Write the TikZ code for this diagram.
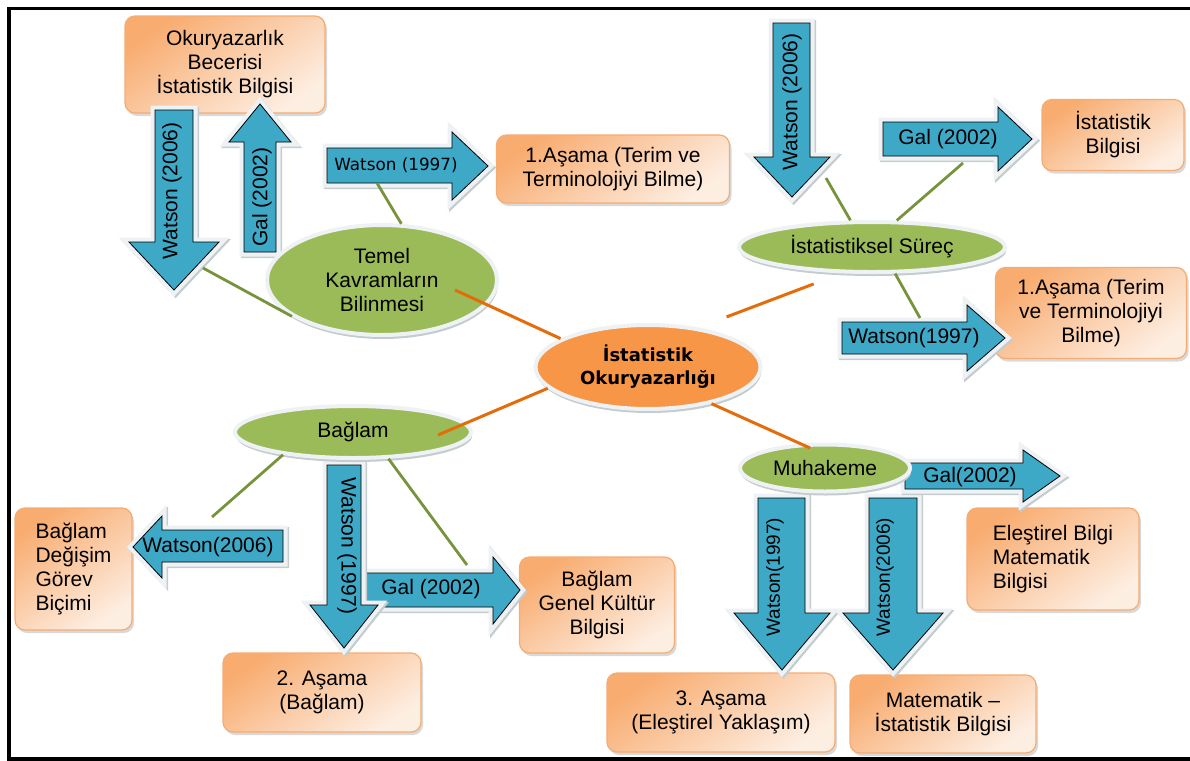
\documentclass[tikz,border=0pt]{standalone}
\usepackage{fontspec}
\setmainfont{Liberation Sans}
\newfontfamily\hubfont{DejaVu Sans}
\usepackage{xcolor}
\usepackage{tikz}
\usetikzlibrary{shapes.geometric, shadows}

\definecolor{arrowblue}{RGB}{62,168,199}
\definecolor{topicgreen}{RGB}{155,187,89}
\definecolor{linkgreen}{RGB}{119,147,60}
\definecolor{huborange}{RGB}{247,150,70}
\definecolor{linkorange}{RGB}{228,108,10}
\definecolor{boxtop}{RGB}{248,172,112}
\definecolor{boxbottom}{RGB}{253,238,226}
\definecolor{boxedge}{RGB}{245,172,115}
\definecolor{rimgray}{RGB}{238,242,244}
\definecolor{shadowgray}{RGB}{196,204,208}

\tikzset{
    infobox/.style={
        rectangle,
        rounded corners=5pt,
        draw=boxedge,
        line width=0.6pt,
        top color=boxtop,
        bottom color=boxbottom,
        shading angle=35,
        drop shadow={shadow xshift=1pt, shadow yshift=-1.5pt, opacity=0.3},
        align=center,
        inner sep=2pt,
        font=\fontsize{10.5}{12}\selectfont
    },
    topic/.style={
        ellipse,
        draw=rimgray,
        line width=2pt,
        fill=topicgreen,
        drop shadow={shadow xshift=0.5pt, shadow yshift=-2pt, fill=shadowgray, opacity=1},
        align=center,
        inner sep=0pt,
        font=\fontsize{10.5}{12}\selectfont
    },
    hub/.style={
        topic,
        fill=huborange,
        font=\hubfont\bfseries\fontsize{9}{11.5}\selectfont
    },
    blockarrow/.style={
        drop shadow={shadow xshift=0.8pt, shadow yshift=-0.8pt, draw=shadowgray, fill=shadowgray, line width=4.5pt, opacity=1},
        preaction={draw=rimgray, line width=4.5pt},
        fill=arrowblue
    },
    arrowtext/.style={
        inner sep=0pt,
        font=\fontsize{10.5}{12}\selectfont
    },
    hubline/.style={
        draw=linkorange,
        line width=1.5pt
    },
    topicline/.style={
        draw=linkgreen,
        line width=1.4pt
    },
    frameline/.style={
        draw=black,
        line width=1.6pt
    }
}

\begin{document}
\begin{tikzpicture}[x=0.5pt, y=-0.5pt]
\useasboundingbox (0,0) rectangle (1190,761);
\draw[frameline] (1200,8.5) -- (9,8.5) -- (9,759) -- (1200,759);

\node[infobox, minimum width=100pt, minimum height=48.5pt] (beceri) at (225,64.5) {Okuryazarlık\\Becerisi\\İstatistik Bilgisi};
\node[infobox, minimum width=116.5pt, minimum height=34pt] (asamaA) at (613,169) {1.Aşama (Terim ve\\Terminolojiyi Bilme)};
\node[infobox, minimum width=71pt, minimum height=35.5pt] (istbilgi) at (1113,135) {İstatistik\\Bilgisi};
\node[infobox, minimum width=95.5pt, minimum height=45.5pt] (asamaB) at (1091,313) {1.Aşama (Terim\\ve Terminolojiyi\\Bilme)};
\node[infobox, align=left, minimum width=58.5pt, minimum height=61pt] (degisim) at (73.5,569) {Bağlam\\Değişim\\Görev\\Biçimi};
\node[infobox, minimum width=77.5pt, minimum height=48pt] (kultur) at (597,605) {Bağlam\\Genel Kültür\\Bilgisi};
\node[infobox, minimum width=99pt, minimum height=39.5pt] (asama2) at (322,692.5) {2. Aşama\\(Bağlam)};
\node[infobox, align=left, minimum width=86pt, minimum height=51pt] (elestirel) at (1053,559) {Eleştirel Bilgi\\Matematik\\Bilgisi};
\node[infobox, minimum width=114pt, minimum height=39.5pt] (asama3) at (721,712.5) {3. Aşama\\(Eleştirel Yaklaşım)};
\node[infobox, minimum width=93pt, minimum height=39pt] (matist) at (943,714) {Matematik --\\İstatistik Bilgisi};

\draw[blockarrow] (155,110) -- (193,110) -- (193,242) -- (219,242) -- (174,290) -- (129,242) -- (155,242) -- cycle;
\node[arrowtext, rotate=90] (w06top) at (172,191) {Watson (2006)};
\draw[blockarrow] (244,252) -- (276,252) -- (276,142) -- (291,142) -- (260,104) -- (229,142) -- (244,142) -- cycle;
\node[arrowtext, rotate=90] (g02up) at (262,197) {Gal (2002)};
\draw[blockarrow] (327,148) -- (452,148) -- (452,132) -- (488,166) -- (452,200) -- (452,183) -- (327,183) -- cycle;
\node[arrowtext, font=\hubfont\fontsize{8.4}{10}\selectfont] (w97top) at (396,165) {Watson (1997)};
\draw[blockarrow] (773,23) -- (810,23) -- (810,157) -- (830,157) -- (792,197) -- (754,157) -- (773,157) -- cycle;
\node[arrowtext, rotate=90] (w06right) at (792,102) {Watson (2006)};
\draw[blockarrow] (883,122) -- (998,122) -- (998,107) -- (1032,139) -- (998,171) -- (998,156) -- (883,156) -- cycle;
\node[arrowtext] (g02right) at (948,139) {Gal (2002)};
\draw[blockarrow] (842,322) -- (967,322) -- (967,305) -- (1005,338) -- (967,371) -- (967,354) -- (842,354) -- cycle;
\node[arrowtext] (w97right) at (914,338) {Watson(1997)};
\draw[blockarrow] (283,530) -- (162,530) -- (162,516) -- (133,547) -- (162,578) -- (162,562) -- (283,562) -- cycle;
\node[arrowtext] (w06left) at (208,547) {Watson(2006)};
\draw[blockarrow] (350,573) -- (493,573) -- (493,557) -- (520,590) -- (493,624) -- (493,607) -- (350,607) -- cycle;
\node[arrowtext] (g02ctx) at (431,589) {Gal (2002)};
\draw[blockarrow] (327,465) -- (361,465) -- (361,605) -- (378,605) -- (344,648) -- (310,605) -- (327,605) -- cycle;
\node[arrowtext, rotate=-90] (w97down) at (347,546) {Watson (1997)};
\draw[blockarrow] (758,498) -- (805,498) -- (805,613) -- (830,613) -- (782,670) -- (734,613) -- (758,613) -- cycle;
\node[arrowtext, rotate=90, font=\fontsize{9.5}{11}\selectfont] (w97muh) at (775,577) {Watson(1997)};
\draw[blockarrow] (869,498) -- (917,498) -- (917,613) -- (943,613) -- (893,670) -- (843,613) -- (869,613) -- cycle;
\node[arrowtext, rotate=90, font=\fontsize{9.5}{11}\selectfont] (w06muh) at (885,577) {Watson(2006)};
\draw[blockarrow] (905,463) -- (1023,463) -- (1023,450) -- (1060,476) -- (1023,502) -- (1023,489) -- (905,489) -- cycle;
\node[arrowtext] (g02muh) at (970,477) {Gal(2002)};

\node[topic, minimum width=115pt, minimum height=55pt] (temel) at (382,280) {Temel\\Kavramların\\Bilinmesi};
\node[topic, minimum width=133pt, minimum height=25pt] (surec) at (872,247) {İstatistiksel Süreç};
\node[topic, minimum width=118pt, minimum height=26pt] (baglam) at (353,432) {Bağlam};
\node[topic, minimum width=85pt, minimum height=23.5pt] (muhakeme) at (825,468) {Muhakeme};
\node[hub, minimum width=112.5pt, minimum height=42pt] (okur) at (648,367) {İstatistik\\Okuryazarlığı};

\coordinate (c1) at (455,290);
\coordinate (c3) at (438,435);
\coordinate (c4) at (810,448);
\coordinate (g1) at (203,268);
\coordinate (g2) at (377,183);
\coordinate (g3) at (826,178);
\coordinate (g4) at (963,163);
\coordinate (g5) at (920,318);
\coordinate (g6) at (212,517);
\coordinate (g7) at (467,565);

\draw[hubline] (okur.162) -- (c1);
\draw[hubline, shorten <=15pt, shorten >=15pt] (okur.38) -- (surec.221);
\draw[hubline] (okur.192) -- (c3);
\draw[hubline] (okur.-30) -- (c4);

\draw[topicline] (temel.202) -- (g1);
\draw[topicline] (temel.71) -- (g2);
\draw[topicline] (surec.129) -- (g3);
\draw[topicline] (surec.47) -- (g4);
\draw[topicline] (surec.-49) -- (g5);
\draw[topicline] (baglam.198) -- (g6);
\draw[topicline] (baglam.-37) -- (g7);

\end{tikzpicture}
\end{document}
